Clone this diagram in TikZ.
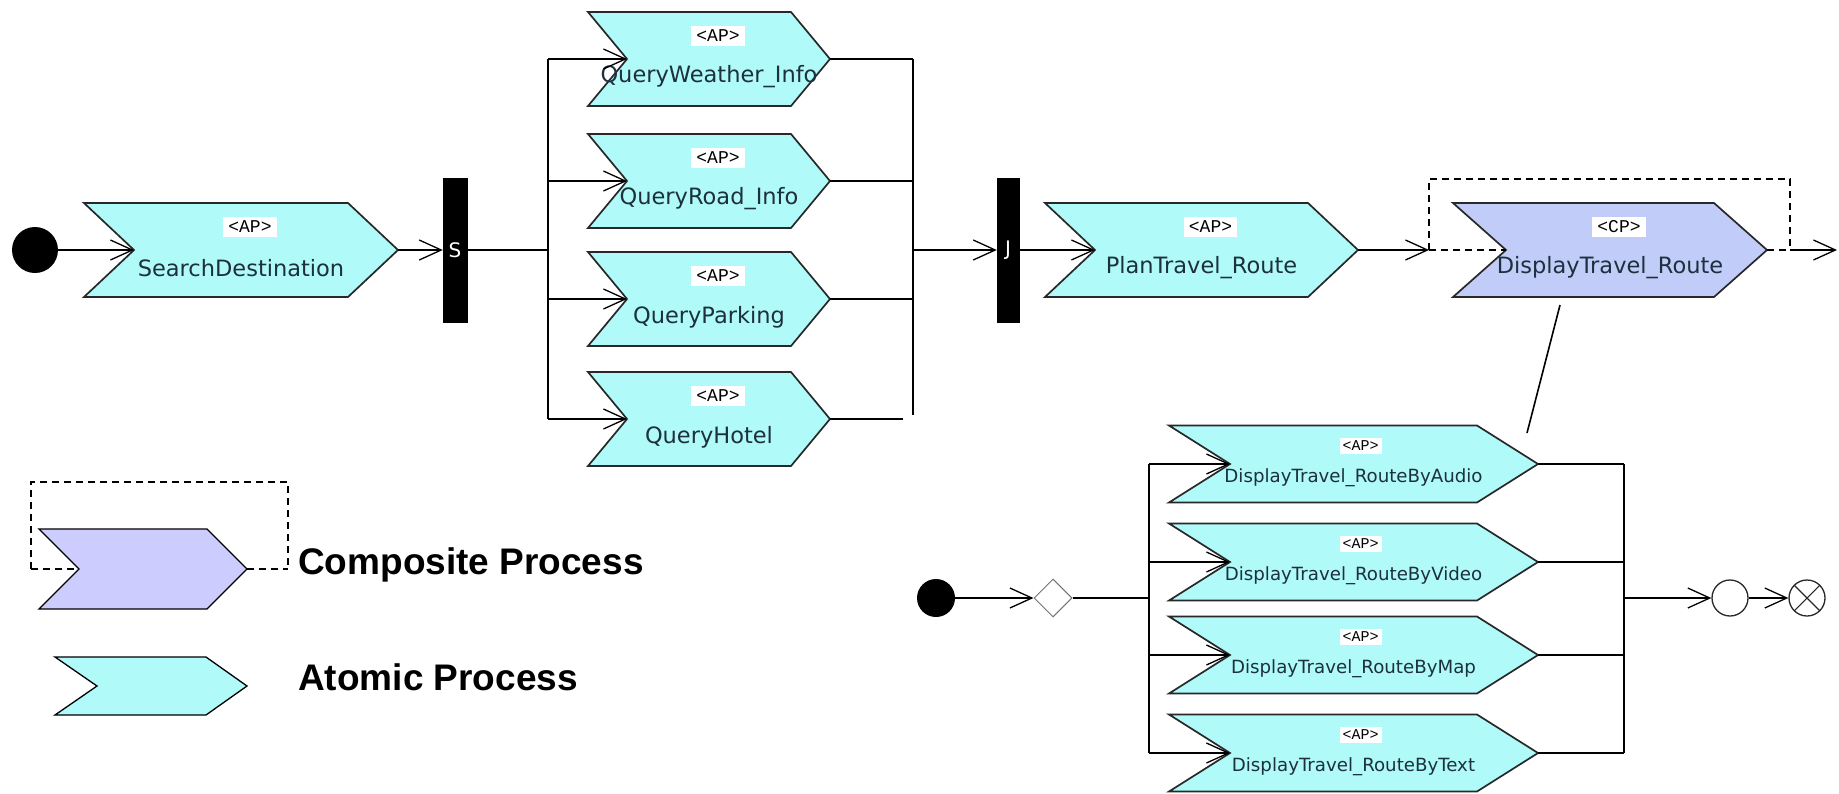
\documentclass[tikz,border=0pt]{standalone}
\usepackage{fontspec}
\usetikzlibrary{arrows.meta,shapes.geometric,calc}
\newfontfamily\lblfont{DejaVu Sans}
\newfontfamily\tagfont{Liberation Mono}
\newfontfamily\legfont{Liberation Sans}
\definecolor{apcol}{RGB}{176,250,250}
\definecolor{cpcol}{RGB}{194,204,248}
\definecolor{legcp}{RGB}{204,204,255}
\definecolor{lblcol}{RGB}{28,48,62}
\definecolor{edgecol}{RGB}{40,40,40}
\def\hhtop{47}\def\txtop{9}\def\tytop{23}\def\lytop{18}
\def\hhbot{38.5}\def\txbot{7}\def\tybot{18}\def\lybot{14}
% #1 name, #2 left x, #3 centre y, #4 tip x, #5 depth, #6 fill, #7 tag, #8 label, #9 kind
\newcommand\chev[9]{%
  \draw[chevline, fill=#6] (#2,#3-\csname hh#9\endcsname) -- (#4-#5,#3-\csname hh#9\endcsname) -- (#4,#3)
     -- (#4-#5,#3+\csname hh#9\endcsname) -- (#2,#3+\csname hh#9\endcsname) -- (#2+#5,#3) -- cycle;
  \coordinate (#1-in) at (#2+#5,#3);
  \coordinate (#1-out) at (#4,#3);
  \node[#9tag] (#1-t) at ({(#2+#4)/2+\csname tx#9\endcsname},{#3-\csname ty#9\endcsname}) {<#7>};
  \node[#9lbl] (#1) at ({(#2+#4)/2},{#3+\csname ly#9\endcsname}) {#8};
}
\tikzset{
  chevline/.style={draw=edgecol, line width=1.7pt, line join=miter},
  toplbl/.style={font=\lblfont\fontsize{22.5}{26}\selectfont, text=lblcol, inner sep=0pt},
  botlbl/.style={font=\lblfont\fontsize{18.2}{21}\selectfont, text=lblcol, inner sep=0pt},
  toptag/.style={font=\tagfont\fontsize{18}{20}\selectfont, fill=white, inner xsep=5pt, inner ysep=4pt},
  bottag/.style={font=\tagfont\fontsize{15}{17}\selectfont, fill=white, inner xsep=3pt, inner ysep=3pt},
  conn/.style={line width=1.5pt, draw=black},
  arr/.style={conn, -{Straight Barb[length=22pt, width=20pt, line width=1.3pt]}},
  bar/.style={fill=black, draw=black, inner sep=0pt, text=white, font=\lblfont\fontsize{20}{22}\selectfont},
  startc/.style={circle, fill=black, inner sep=0pt},
  endc/.style={circle, draw=edgecol, line width=1.3pt, fill=white, inner sep=0pt, minimum size=36pt},
  dashedline/.style={line width=1.4pt, dash pattern=on 7pt off 5pt},
  legtxt/.style={font=\legfont\bfseries\fontsize{37}{40}\selectfont, inner sep=0pt, anchor=base west}
}
\begin{document}
\begin{tikzpicture}[x=1pt, y=-1pt]
\useasboundingbox[fill=white] (0,0) rectangle (1839,793);

% ---------- top process ----------
\chev{sd}{84}{250}{398}{50}{apcol}{AP}{SearchDestination}{top}
\chev{qw}{588}{59}{830}{39}{apcol}{AP}{QueryWeather\_Info}{top}
\chev{qr}{588}{181}{830}{39}{apcol}{AP}{QueryRoad\_Info}{top}
\chev{qp}{588}{299}{830}{39}{apcol}{AP}{QueryParking}{top}
\chev{qh}{588}{419}{830}{39}{apcol}{AP}{QueryHotel}{top}
\chev{pt}{1045}{250}{1358}{50}{apcol}{AP}{PlanTravel\_Route}{top}

% composite with dashed frame
\coordinate (cpL) at (1429,250);
\coordinate (cpR) at (1790,250);
\coordinate (endR) at (1837,250);
\draw[dashedline] (cpL) -- (1429,179) -- (1790,179) -- (cpR);
\chev{cp}{1453}{250}{1767}{53}{cpcol}{CP}{DisplayTravel\_Route}{top}
\draw[dashedline] (cpL) -- (cp-in);
\draw[dashedline] (cp-out) -- (cpR);

\node[startc, minimum size=46pt] (st1) at (35,250) {};
\node[bar, minimum width=24pt, minimum height=144pt] (S) at (455,250) {S};
\node[bar, minimum width=22pt, minimum height=144pt] (J) at (1008,250) {J};

\draw[arr] (st1) -- (sd-in);
\draw[arr] (sd-out) -- (S.west);
\coordinate (b1) at (548,250);
\coordinate (b2) at (913,250);
\draw[conn] (S.east) -- (b1);
\draw[conn] (b1 |- qw-in) -- (b1 |- qh-in);
\foreach \q in {qw,qr,qp,qh} { \draw[arr] (b1 |- \q-in) -- (\q-in); }
\foreach \q in {qw,qr,qp} { \draw[conn] (\q-out) -- (\q-out -| b2); }
\draw[conn] (qh-out) -- ($(qh-out -| b2)+(-10,0)$);
\draw[conn] (b2 |- qw-out) -- ($(b2 |- qh-out)+(0,-4)$);
\draw[arr] (b2) -- (J.west);
\draw[arr] (J.east) -- (pt-in);
\draw[arr] (pt-out) -- (cpL);
\draw[arr] (cpR) -- (endR);

% ---------- expansion of the composite ----------
\coordinate (cpd) at (1560,305);
\coordinate (subtop) at (1527,433);
\draw[line width=1.6pt] (cpd) -- (subtop);

\chev{da}{1169}{464}{1538}{61}{apcol}{AP}{DisplayTravel\_RouteByAudio}{bot}
\chev{dv}{1169}{562}{1538}{61}{apcol}{AP}{DisplayTravel\_RouteByVideo}{bot}
\chev{dm}{1169}{655}{1538}{61}{apcol}{AP}{DisplayTravel\_RouteByMap}{bot}
\chev{dt}{1169}{753}{1538}{61}{apcol}{AP}{DisplayTravel\_RouteByText}{bot}

\node[startc, minimum size=38pt] (st2) at (936,598) {};
\node[diamond, draw=black!55, line width=1pt, fill=white, inner sep=0pt, minimum width=38pt, minimum height=38pt] (dec) at (1053,598) {};
\node[endc] (ec) at (1730,598) {};
\node[endc, path picture={
   \draw[edgecol, line width=1.1pt] (path picture bounding box.north west) -- (path picture bounding box.south east);
   \draw[edgecol, line width=1.1pt] (path picture bounding box.north east) -- (path picture bounding box.south west);}] (fin) at (1807,598) {};

\coordinate (b3) at (1149,598);
\coordinate (b4) at (1624,598);
\draw[arr] (st2) -- (dec.west);
\draw[conn] (dec.east) -- (b3);
\draw[conn] (b3 |- da-in) -- (b3 |- dt-in);
\foreach \q in {da,dv,dm,dt} { \draw[arr] (b3 |- \q-in) -- (\q-in); }
\foreach \q in {da,dv,dm,dt} { \draw[conn] (\q-out) -- (\q-out -| b4); }
\draw[conn] (b4 |- da-out) -- (b4 |- dt-out);
\draw[arr] (b4) -- (ec.west);
\draw[arr] (ec.east) -- (fin.west);

% ---------- legend ----------
\draw[dashedline] (31,569) -- (31,482) -- (288,482) -- (288,569);
\draw[dashedline] (31,569) -- (79,569);
\draw[dashedline] (247,569) -- (288,569);
\draw[draw=black, line width=1.3pt, fill=legcp] (39,529) -- (207,529) -- (247,569) -- (207,609) -- (39,609) -- (79,569) -- cycle;
\draw[draw=black, line width=1.3pt, fill=apcol] (55,657) -- (206,657) -- (247,686) -- (206,715) -- (55,715) -- (97,686) -- cycle;
\node[legtxt] (lcp) at (298,574) {Composite Process};
\node[legtxt] (lap) at (298,690) {Atomic Process};
\end{tikzpicture}
\end{document}
